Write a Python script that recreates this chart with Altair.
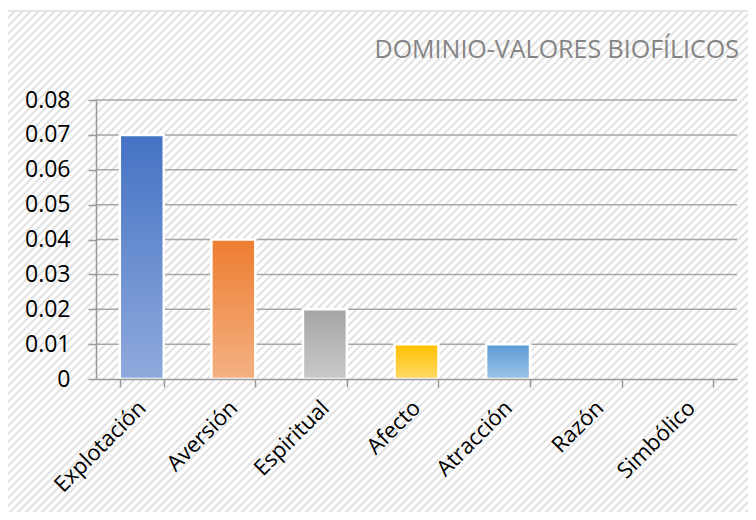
import altair as alt
import numpy as np
import pandas as pd

categories = ["Explotación", "Aversión", "Espiritual", "Afecto", "Atracción", "Razón", "Simbólico"]
values = [0.07, 0.04, 0.02, 0.01, 0.01, 0.0, 0.0]
top_colors = ["#4472c4", "#ed7d31", "#a5a5a5", "#ffc000", "#5b9bd5", "#4472c4", "#ed7d31"]
bottom_colors = ["#8faadc", "#f4b183", "#c9c9c9", "#ffd966", "#9dc3e6", "#8faadc", "#f4b183"]
y_ticks = [0, 0.01, 0.02, 0.03, 0.04, 0.05, 0.06, 0.07, 0.08]
title_text = "DOMINIO-VALORES BIOFÍLICOS"

W, H = 641, 279
df = pd.DataFrame({"cat": categories, "val": values})
ticks_df = pd.DataFrame({"val": y_ticks})

# decorative hatch background (plot-relative pixel coordinates)
x0, x1, y0, y1 = -89, 652, -89, 420
cs = np.arange(x0 + y0, x1 + y1 + 8, 8)
hx1 = np.maximum(x0, cs - y1)
hx2 = np.minimum(x1, cs - y0)
hatch = pd.DataFrame({"xa": hx1, "ya": cs - hx1, "xb": hx2, "yb": cs - hx2})
hatch = hatch[hatch.xa < hatch.xb]

hatch_layer = alt.Chart(hatch).mark_rule(color="#e2e2e2", strokeWidth=2.2, clip=False).encode(
    x=alt.X("xa:Q", scale=None, axis=None),
    y=alt.Y("ya:Q", scale=None, axis=None),
    x2="xb:Q",
    y2="yb:Q",
)

border = alt.Chart(pd.DataFrame({"a": [0]})).mark_rect(
    fill=None, stroke="#d0d0d0", strokeWidth=1.2, clip=False
).encode(x=alt.value(x0), x2=alt.value(x1 + 50), y=alt.value(y0), y2=alt.value(y1 + 50))

xscale = alt.Scale(domain=categories, paddingInner=0.52, paddingOuter=0.26)
yscale = alt.Scale(domain=[0, 0.08], nice=False)

x_axis = alt.Axis(labelAngle=-45, labelAlign="right", labelBaseline="middle",
                  labelFontSize=22, labelFont="Open Sans", labelColor="#000000",
                  labelPadding=17, tickSize=8, tickColor="#999999", tickWidth=1.5,
                  domainColor="#999999", domainWidth=1.5, grid=False, labelLimit=300,
                  bandPosition=0, tickBand="extent", zindex=1)
y_axis = alt.Axis(values=y_ticks, labelFontSize=23, labelFont="Open Sans",
                  labelColor="#000000", labelPadding=18, tickSize=8, tickColor="#999999",
                  tickWidth=1.5, domainColor="#999999", domainWidth=1.5, grid=False,
                  labelOverlap=False, zindex=1,
                  labelExpr="datum.value == 0 ? '0' : format(datum.value, '.2f')")

x_enc = alt.X("cat:N", sort=categories, scale=xscale, title=None, axis=x_axis)
y_enc = alt.Y("val:Q", scale=yscale, title=None, axis=y_axis)

grid_layer = alt.Chart(ticks_df).transform_filter(alt.datum.val > 0).mark_rule(
    color="#a6a6a6", strokeWidth=1.5
).encode(y=y_enc)

base = alt.Chart(df)
axes_layer = base.mark_bar(opacity=0).encode(x=x_enc, y=y_enc)

bar_layers = []
for cat, v, tc, bc in zip(categories, values, top_colors, bottom_colors):
    if v <= 0:
        continue
    grad = alt.Gradient(gradient="linear", x1=0, y1=0, x2=0, y2=1,
                        stops=[alt.GradientStop(color=tc, offset=0),
                               alt.GradientStop(color=bc, offset=1)])
    bar_layers.append(
        base.transform_filter(alt.datum.cat == cat).mark_bar(
            color=grad, stroke="white", strokeWidth=2.5
        ).encode(x=x_enc, y=y_enc)
    )

title_layer = alt.Chart(pd.DataFrame({"t": [title_text]})).mark_text(
    align="right", baseline="alphabetic", fontSize=25, font="Open Sans", fontWeight=400,
    color="#858585", clip=False
).encode(text="t:N", x=alt.value(643), y=alt.value(-42))

chart = alt.layer(hatch_layer, border, grid_layer, axes_layer, *bar_layers, title_layer).resolve_scale(
    x="shared", y="shared"
).properties(
    width=W, height=H, autosize=alt.AutoSizeParams(type="none"),
    padding={"left": 88, "top": 92, "right": 11, "bottom": 133},
).configure_view(stroke=None)

chart.save("out.html", embed_options={"renderer": "svg", "actions": False})
